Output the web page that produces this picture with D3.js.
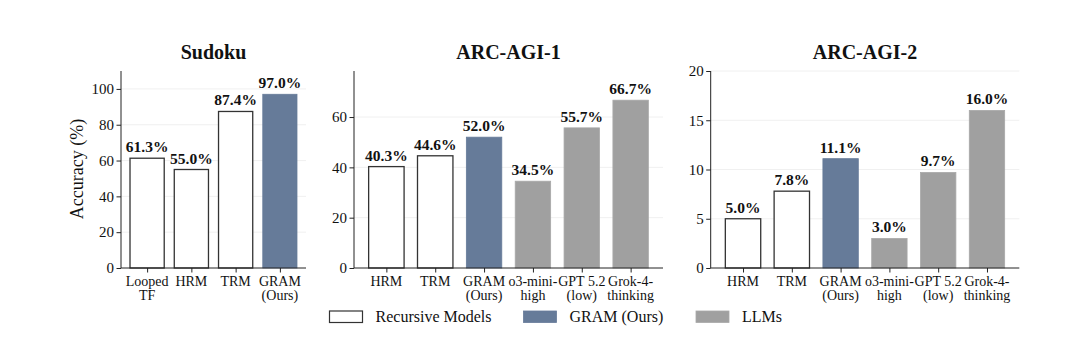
<!DOCTYPE html>
<html>
<head>
<meta charset="utf-8">
<script src="https://cdn.jsdelivr.net/npm/d3@7"></script>
<style>
  body { margin: 0; background: #fff; }
  svg text { font-family: "Liberation Serif", "Times New Roman", serif; fill: #111; }
</style>
</head>
<body>
<div id="chart"></div>
<script>
// data
var sudokuModels = ["Looped\nTF", "HRM", "TRM", "GRAM\n(Ours)"];
var sudokuValues = [61.3, 55.0, 87.4, 97.0];
var sudokuGroups = ["rec", "rec", "rec", "gram"];

var arcModels = ["HRM", "TRM", "GRAM\n(Ours)", "o3-mini-\nhigh", "GPT 5.2\n(low)", "Grok-4-\nthinking"];
var arc1Values = [40.3, 44.6, 52.0, 34.5, 55.7, 66.7];
var arc2Values = [5.0, 7.8, 11.1, 3.0, 9.7, 16.0];
var arcGroups = ["rec", "rec", "gram", "llm", "llm", "llm"];

var sudokuTicks = [0, 20, 40, 60, 80, 100];
var arc1Ticks = [0, 20, 40, 60];
var arc2Ticks = [0, 5, 10, 15, 20];

var legendLabels = ["Recursive Models", "GRAM (Ours)", "LLMs"];
var legendGroups = ["rec", "gram", "llm"];

var fills = {rec: "#ffffff", gram: "#667b99", llm: "#a0a0a0"};
var strokes = {rec: "#333333", gram: "#667b99", llm: "#a8a8a8"};

var W = 1080, H = 339;
var plotTop = 71, plotBottom = 268;

var svg = d3.select("#chart").append("svg")
    .attr("width", W).attr("height", H);

var panels = [
  {title: "Sudoku", names: sudokuModels, values: sudokuValues, groups: sudokuGroups,
   ticks: sudokuTicks, ymax: 110, left: 121, right: 306, barW: 0.8},
  {title: "ARC-AGI-1", names: arcModels, values: arc1Values, groups: arcGroups,
   ticks: arc1Ticks, ymax: 78.3, left: 354, right: 663, barW: 0.75},
  {title: "ARC-AGI-2", names: arcModels, values: arc2Values, groups: arcGroups,
   ticks: arc2Ticks, ymax: 20, left: 710.7, right: 1019.3, barW: 0.75}
];

panels.forEach(function(p, pi) {
  var n = p.values.length;
  var m = p.barW / 2 + 0.05 * (n - 1 + p.barW);
  var x = d3.scaleLinear().domain([-m, n - 1 + m]).range([p.left, p.right]);
  var y = d3.scaleLinear().domain([0, p.ymax]).range([plotBottom, plotTop]);
  var g = svg.append("g");

  // grid
  g.selectAll(".grid").data(p.ticks.filter(function(t){ return t > 0; })).enter()
    .append("line")
    .attr("x1", p.left).attr("x2", p.right)
    .attr("y1", function(d){ return y(d); }).attr("y2", function(d){ return y(d); })
    .style("stroke", "#ececec").style("stroke-width", 0.8);

  // bars
  var half = (x(p.barW) - x(0)) / 2;
  g.selectAll(".bar").data(p.values).enter().append("rect")
    .attr("x", function(d, i){ return x(i) - half + 0.6; })
    .attr("width", 2 * half - 1.2)
    .attr("y", function(d){ return y(d); })
    .attr("height", function(d){ return plotBottom - y(d); })
    .style("fill", function(d, i){ return fills[p.groups[i]]; })
    .style("stroke", function(d, i){ return strokes[p.groups[i]]; })
    .style("stroke-width", function(d, i){ return p.groups[i] == "rec" ? 1.3 : 0.8; });

  // value labels
  g.selectAll(".val").data(p.values).enter().append("text")
    .attr("x", function(d, i){ return x(i); })
    .attr("y", function(d){ return y(d) - 6; })
    .attr("text-anchor", "middle")
    .style("font-size", "15.5px").style("font-weight", "bold")
    .text(function(d){ return d.toFixed(1) + "%"; });

  // axes
  var yAxis = d3.axisLeft(y).tickValues(p.ticks).tickSize(4.5).tickPadding(2.5);
  var ya = g.append("g").attr("transform", "translate(" + p.left + ",0)").call(yAxis);
  ya.select(".domain").attr("d", "M0," + plotTop + "V" + plotBottom);
  ya.selectAll("text").style("font-size", "15px").style("font-family", "Liberation Serif");

  var xAxis = d3.axisBottom(x).tickValues(d3.range(n)).tickSize(4.5).tickFormat("");
  var xa = g.append("g").attr("transform", "translate(0," + plotBottom + ")").call(xAxis);
  xa.select(".domain").attr("d", "M" + p.left + ",0H" + p.right);
  g.selectAll(".domain, .tick line").style("stroke", "#222").style("stroke-width", 1);

  // two-line tick labels
  g.selectAll(".xl").data(p.names).enter().append("text")
    .attr("text-anchor", "middle")
    .attr("transform", function(d, i){ return "translate(" + x(i) + ",285.5)"; })
    .style("font-size", "14px")
    .selectAll("tspan").data(function(d){ return d.split("\n"); }).enter()
    .append("tspan").attr("x", 0).attr("dy", function(d, j){ return j ? 14 : 0; })
    .text(function(d){ return d; });

  // title
  g.append("text").attr("x", (p.left + p.right) / 2).attr("y", 59)
    .attr("text-anchor", "middle")
    .style("font-size", "20px").style("font-weight", "bold")
    .text(p.title);

  if (pi == 0) {
    g.append("text").attr("transform", "translate(83,169) rotate(-90)")
      .attr("text-anchor", "middle").style("font-size", "18px")
      .text("Accuracy (%)");
  }
});

// legend
var legendX = [329.5, 523.5, 696];
var lg = svg.append("g");
legendLabels.forEach(function(label, i) {
  var grp = legendGroups[i];
  lg.append("rect").attr("x", legendX[i]).attr("y", 311).attr("width", 33).attr("height", 11.5)
    .style("fill", fills[grp]).style("stroke", strokes[grp])
    .style("stroke-width", grp == "rec" ? 1.2 : 0.8);
  lg.append("text").attr("x", legendX[i] + 46).attr("y", 322)
    .style("font-size", "16px").text(label);
});
</script>
</body>
</html>
